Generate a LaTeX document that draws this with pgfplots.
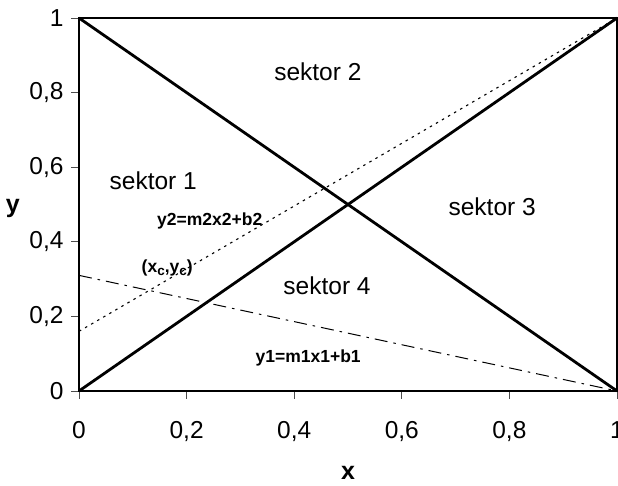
\documentclass[border=0pt]{standalone}
\usepackage{fontspec}
\setmainfont{Liberation Sans}
\usepackage{pgfplots}
\pgfplotsset{compat=1.18}
\newcommand{\sub}[1]{\raisebox{-0.3ex}{\fontsize{13.5}{15}\selectfont #1}}
\begin{document}
\begin{tikzpicture}
\begin{axis}[
  scale only axis, width=538pt, height=373pt,
  xmin=0, xmax=1, ymin=0, ymax=1,
  xtick={0,0.2,0.4,0.6,0.8,1}, ytick={0,0.2,0.4,0.6,0.8,1},
  tick pos=left, tick align=outside, major tick length=8pt,
  axis line style={line width=1.4pt},
  tick style={line width=0.9pt, black!70},
  /pgf/number format/.cd, use comma, assume math mode=true, 1000 sep={},
  /pgfplots/.cd,
  ticklabel style={font=\fontsize{24.5}{28}\selectfont},
  xticklabel style={yshift=-19pt},
  yticklabel style={xshift=-4pt},
  xlabel={\textbf{x}}, ylabel={\textbf{y}},
  label style={font=\fontsize{25}{28}\selectfont},
  xlabel style={at={(axis description cs:0.5,-0.22)}, anchor=center},
  ylabel style={at={(axis description cs:-0.123,0.488)}, anchor=center, rotate=-90},
  clip=false,
]
\addplot[black, line width=2.8pt] coordinates {(0,1) (1,0)};
\addplot[black, line width=2.8pt] coordinates {(0,0) (1,1)};
\addplot[black, line width=1.1pt, dash pattern=on 2.5pt off 4.5pt] coordinates {(0,0.16) (1,1)};
\addplot[black, line width=1pt, dash pattern=on 13pt off 6pt on 2.5pt off 6pt] coordinates {(0,0.31) (0.2,0.248) (0.4,0.186) (0.6,0.124) (0.8,0.062) (1,0)};
\node[font=\fontsize{24.5}{28}\selectfont] at (axis cs:0.444,0.855) {sektor 2};
\node[font=\fontsize{24.5}{28}\selectfont] at (axis cs:0.138,0.563) {sektor 1};
\node[font=\fontsize{24.5}{28}\selectfont] at (axis cs:0.768,0.493) {sektor 3};
\node[font=\fontsize{24.5}{28}\selectfont] at (axis cs:0.461,0.281) {sektor 4};
\node[font=\fontsize{17.5}{20}\selectfont\bfseries] at (axis cs:0.243,0.456) {y2=m2x2+b2};
\node[font=\fontsize{17.5}{20}\selectfont\bfseries] at (axis cs:0.164,0.330) {(x\sub{c},y\sub{c})};
\node[font=\fontsize{17.5}{20}\selectfont\bfseries] at (axis cs:0.426,0.088) {y1=m1x1+b1};
\end{axis}
\pgfresetboundingbox
\path ([shift={(-79pt,-95pt)}]current axis.south west) rectangle ([shift={(1pt,18pt)}]current axis.north east);
\end{tikzpicture}
\end{document}
